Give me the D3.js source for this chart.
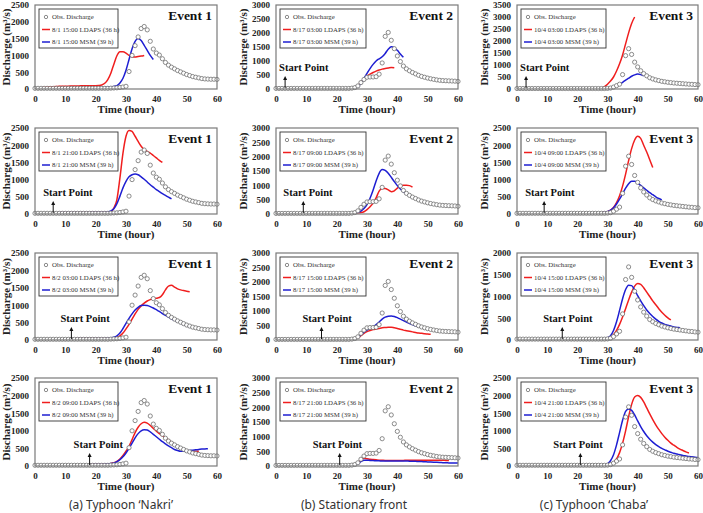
<!DOCTYPE html>
<html><head><meta charset="utf-8">
<script src="https://cdn.jsdelivr.net/npm/d3@7"></script>
<style>body{margin:0;background:#fff}svg{display:block}</style>
</head><body>
<svg id="c" width="703" height="513"></svg>
<script>
// ---------------- DATA ----------------
const hours = d3.range(0, 61);
const xTicks = [0, 10, 20, 30, 40, 50, 60];
const eventNames = ["Event 1", "Event 2", "Event 3"];
const captions = ["(a) Typhoon \u2018Nakri\u2019", "(b) Stationary front", "(c) Typhoon \u2018Chaba\u2019"];
const issueTimes = [
  ["8/1 15:00", "8/1 21:00", "8/2 03:00", "8/2 09:00"],
  ["8/17 03:00", "8/17 09:00", "8/17 15:00", "8/17 21:00"],
  ["10/4 03:00", "10/4 09:00", "10/4 15:00", "10/4 21:00"]
];
const startHours = [[0, 6, 12, 18], [3, 9, 15, 21], [3, 9, 15, 21]];
const yMaxes = [[2500, 2500, 2500, 2500], [3000, 3000, 3000, 3000], [3500, 2500, 2000, 2500]];

const obsE1 = [20,20,20,20,20,20,20,20,20,20, 20,20,20,20,20,20,20,20,20,20,
  20,20,20,20,20,25,30,35,45,60, 80,520,1000,1290,1550,1800,1860,1760,1420,1190,
  1070,1010,900,790,710,650,600,550,510,470, 430,400,370,350,330,310,300,295,290,290, 285];
const obsE2 = [20,20,20,20,20,20,20,20,20,20, 20,20,20,20,20,20,20,20,20,20,
  20,20,20,20,20,30,50,110,230,340, 420,430,430,440,530,930,1880,2020,1740,1440,
  1180,980,820,720,650,590,540,490,450,420, 390,365,345,325,310,300,295,290,285,280, 270];
const obsE3 = [20,20,20,20,20,20,20,20,20,20, 20,20,20,20,20,20,20,20,20,20,
  20,20,20,20,20,20,20,20,20,20, 25,40,80,140,200,600,1390,1680,1440,1120,
  920,760,640,550,470,420,380,350,320,300, 280,265,250,240,230,220,210,200,195,185, 180];

// LDAPS and MSM forecasts, hourly from each start hour
const ldapsE1 = [
  [20,30,40,50,60,65,70,75,80,80, 85,85,90,90,90,95,95,95,95,100, 100,105,120,170,280,470,740,990,1110,1110, 1070,1000,960,950,970,980,1000],
  [30,35,40,40,40,40,40,45,45,45, 45,45,45,50,50,50,50,50,55,70, 175,420,1050,1770,2260,2430,2400,2260,2110,1970, 1870,1820,1770,1700,1630,1560,1500],
  [30,35,40,40,40,40,40,40,40,40, 40,45,45,50,60,80,120,200,320,450, 600,750,880,980,1060,1120,1160,1190,1200,1220, 1300,1440,1550,1570,1520,1470,1440,1420,1400,1390],
  [40,45,50,50,50,55,60,70,90,130, 200,300,420,560,750,950,1100,1200,1240,1220, 1150,1070,990,920,860,800,740,680,620,570, 520,480,450,430,420,420,420]
];
const msmE1 = [
  [20,30,35,40,40,40,40,40,40,40, 40,40,40,40,40,40,40,40,40,40, 40,40,45,50,55,60,75,100,180,320, 560,880,1200,1420,1500,1440,1300,1150,1000,880],
  [30,35,40,40,40,40,40,45,45,45, 45,45,45,50,50,50,50,50,60,90, 150,300,520,760,950,1080,1140,1160,1140,1080, 1010,930,850,780,710,650,590,540,490,440],
  [30,35,40,40,40,40,40,40,40,40, 40,45,50,60,80,120,200,330,480,620, 750,860,940,990,1000,990,960,920,870,820, 760,710,660,610,570,530,490,450,410,380],
  [40,45,50,50,50,55,60,70,85,120, 180,260,370,500,650,800,920,1000,1030,1020, 970,900,830,760,690,630,570,520,470,440, 420,420,430,440,450,460,470,480,485,490]
];
const ldapsE2 = [
  [20,25,30,30,30,30,30,30,30,30, 30,30,30,30,30,30,30,30,30,30, 30,30,40,60,120,230,350,450,530,590, 640,680,710,730,750,770,760],
  [20,25,30,30,30,30,30,30,30,30, 30,30,30,30,30,30,30,35,40,50, 80,150,250,380,560,800,890,890,840,780, 810,900,970,1000,1000,990,940],
  [20,25,30,30,30,30,30,30,30,30, 35,50,80,150,230,290,330,360,380,400, 420,430,440,440,420,400,370,340,320,300, 280,260,240,230,215,205,195],
  [20,25,30,30,40,60,120,200,260,250, 230,220,210,200,195,190,190,190,190,190, 190,190,195,195,200,200,200,200,200,200, 200,200,200,195,195,190,190]
];
const msmE2 = [
  [20,25,30,30,30,30,30,30,30,30, 30,30,30,30,30,30,30,30,30,30, 30,30,35,45,80,200,370,560,730,880, 1000,1080,1150,1270,1420,1510,1480,1380,1250,1130],
  [20,25,30,30,30,30,30,30,30,30, 30,30,30,30,30,30,35,45,60,100, 190,330,550,830,1150,1420,1550,1520,1420,1280, 1130,990,870,780,700,640,590,540,500,470],
  [20,25,30,30,30,30,30,30,30,30, 35,50,90,180,270,340,400,460,530,620, 720,790,820,830,810,770,720,670,620,570, 530,490,460,430,410,390,370,350,340,330],
  [20,25,30,30,35,50,80,150,200,200, 190,185,180,175,170,170,170,170,170,170, 170,170,170,165,165,160,155,150,145,140, 135,130,125,120,115,110,105,100,100,100]
];
const ldapsE3 = [
  [20,20,20,20,20,20,20,20,20,20, 20,20,20,20,20,20,20,20,20,20, 20,20,20,20,25,40,100,200,330,500, 750,1050,1420,1880,2340,2730,3000],
  [20,20,20,20,20,20,20,20,20,20, 20,20,20,20,20,20,20,25,30,40, 50,70,110,190,330,530,810,1160,1550,1900, 2150,2260,2200,2000,1800,1580,1350],
  [20,20,20,20,20,20,20,20,20,20, 20,20,20,20,25,35,60,120,220,360, 530,720,920,1100,1240,1300,1280,1200,1100,1000, 900,810,720,640,570,510,460],
  [20,20,20,20,20,20,20,25,30,40, 60,100,200,380,650,1000,1400,1750,1960,2000, 1950,1820,1650,1480,1320,1170,1040,920,820,730, 650,590,530,480,440,400,370]
];
const msmE3 = [
  [20,20,20,20,20,20,20,20,20,20, 20,20,20,20,20,20,20,20,20,20, 20,20,20,20,20,20,25,35,60,90, 140,200,280,370,450,530,590,620,600,550],
  [20,20,20,20,20,20,20,20,20,20, 20,20,20,20,20,20,20,25,30,40, 50,70,110,180,290,430,590,750,880,950, 950,900,830,760,690,620,560,500,450,410],
  [20,20,20,20,20,20,20,20,20,20, 20,20,20,20,30,50,100,220,420,680, 950,1160,1260,1250,1150,1020,900,790,690,610, 540,480,430,390,360,340,320,300,290,280],
  [20,20,20,20,20,20,20,25,35,60, 150,320,600,950,1300,1550,1620,1580,1450,1280, 1120,980,860,760,680,610,550,500,460,420, 390,360,340,320,300,285,270,260,250,240]
];
const obsAll = [obsE1, obsE2, obsE3];
const ldapsAll = [ldapsE1, ldapsE2, ldapsE3];
const msmAll = [msmE1, msmE2, msmE3];

// ---------------- LAYOUT ----------------
const colX = [[35, 217], [276, 458], [517, 698]];
const rowY = [[89, 5], [214, 128], [340, 253], [466, 378]];
const yTitleX = [10, 247, 488];
const legendW = [79, 86, 85];
const captionX = [121, 354, 594];
const startTextDx = [[0, -10, -11, -16], [-6, -20, -19, -27], [-6, -19, -19, -27]];
const RED = "#f01e1e", BLUE = "#1e1ed2";
const SERIF = "'Liberation Serif','Times New Roman',serif";

const svg = d3.select("#c");

for (let c = 0; c < 3; c++) {
  for (let r = 0; r < 4; r++) {
    const ymax = yMaxes[c][r];
    const x = d3.scaleLinear().domain([0, 60]).range(colX[c]);
    const y = d3.scaleLinear().domain([0, ymax]).range(rowY[r]);
    const g = svg.append("g");
    const x0 = x(0), x1 = x(60), yb = y(0), yt = y(ymax);

    // y axis
    const ya = g.append("g").attr("transform", `translate(${x0},0)`)
      .call(d3.axisLeft(y).tickValues(d3.range(0, ymax + 1, 500)).tickFormat(d3.format("d")).tickSize(0).tickPadding(6));
    ya.select(".domain").remove();
    ya.selectAll("text").attr("font-family", SERIF).attr("font-weight", "bold").attr("font-size", 9).attr("fill", "#222");

    // x axis
    const xa = g.append("g").attr("transform", `translate(0,${yb})`)
      .call(d3.axisBottom(x).tickValues(xTicks).tickFormat(d3.format("d")).tickSize(0).tickPadding(7));
    xa.select(".domain").remove();
    xa.selectAll("text").attr("font-family", SERIF).attr("font-weight", "bold").attr("font-size", 9).attr("fill", "#222");

    // axis titles
    g.append("text").attr("x", (x0 + x1) / 2).attr("y", yb + 24).attr("text-anchor", "middle")
      .attr("font-family", SERIF).attr("font-weight", "bold").attr("font-size", 11).attr("fill", "#222")
      .text("Time (hour)");
    g.append("text").attr("transform", `translate(${yTitleX[c]},${(yb + yt) / 2}) rotate(-90)`)
      .attr("text-anchor", "middle").attr("font-family", SERIF).attr("font-weight", "bold")
      .attr("font-size", 11).attr("fill", "#222").text("Discharge (m\u00B3/s)");

    // forecast lines
    const st = startHours[c][r];
    const line = d3.line().x(d => x(d[0])).y(d => y(d[1])).curve(d3.curveMonotoneX);
    const ld = ldapsAll[c][r].map((v, i) => [st + i, v]);
    const ms = msmAll[c][r].map((v, i) => [st + i, v]);
    g.append("path").datum(ld).attr("d", line).attr("fill", "none").attr("stroke", RED).attr("stroke-width", 1.5);
    g.append("path").datum(ms).attr("d", line).attr("fill", "none").attr("stroke", BLUE).attr("stroke-width", 1.5);

    // observations
    g.append("g").selectAll("circle").data(hours).join("circle")
      .attr("cx", h => x(h)).attr("cy", h => y(obsAll[c][h])).attr("r", 2.1)
      .attr("fill", "#fff").attr("stroke", "#6e6e6e").attr("stroke-width", 0.8);

    // frame
    g.append("rect").attr("x", x0).attr("y", yt).attr("width", x1 - x0).attr("height", yb - yt)
      .attr("fill", "none").attr("stroke", "#7a7a7a").attr("stroke-width", 1.2);

    // event label
    g.append("text").attr("x", x1 - 5).attr("y", yt + 15).attr("text-anchor", "end")
      .attr("font-family", SERIF).attr("font-weight", "bold").attr("font-size", 13.5).attr("fill", "#111")
      .text(eventNames[c]);

    // legend
    const lx = x0 + 4, ly = yt + 4, lw = legendW[c];
    const lg = g.append("g");
    lg.append("rect").attr("x", lx).attr("y", ly).attr("width", lw).attr("height", 39)
      .attr("fill", "#fff").attr("stroke", "#333").attr("stroke-width", 0.9);
    const items = [
      {t: "Obs. Discharge", k: "obs"},
      {t: issueTimes[c][r] + " LDAPS (36 h)", k: RED},
      {t: issueTimes[c][r] + " MSM (39 h)", k: BLUE}
    ];
    items.forEach((it, i) => {
      const yy = ly + 8 + i * 12.5;
      if (it.k === "obs") {
        lg.append("circle").attr("cx", lx + 7).attr("cy", yy).attr("r", 1.7)
          .attr("fill", "#fff").attr("stroke", "#6e6e6e").attr("stroke-width", 0.8);
      } else {
        lg.append("line").attr("x1", lx + 3).attr("x2", lx + 11).attr("y1", yy).attr("y2", yy)
          .attr("stroke", it.k).attr("stroke-width", 1.5);
      }
      lg.append("text").attr("x", lx + 13).attr("y", yy + 2.3).attr("font-family", SERIF)
        .attr("font-size", 6.8).attr("fill", "#333").text(it.t);
    });

    // start point
    if (st > 0) {
      const xs = x(st);
      g.append("line").attr("x1", xs).attr("x2", xs).attr("y1", yb - 1).attr("y2", yb - 10)
        .attr("stroke", "#111").attr("stroke-width", 1);
      g.append("path").attr("d", `M${xs},${yb - 13}L${xs - 2},${yb - 9}L${xs + 2},${yb - 9}Z`).attr("fill", "#111");
      g.append("text").attr("x", xs + startTextDx[c][r]).attr("y", yb - 18).attr("font-family", SERIF)
        .attr("font-weight", "bold").attr("font-size", 10.5).attr("fill", "#111").text("Start Point");
    }
  }
  svg.append("text").attr("x", captionX[c]).attr("y", 509).attr("text-anchor", "middle")
    .attr("font-family", "'Noto Sans',sans-serif").attr("font-size", 12).attr("fill", "#333")
    .text(captions[c]);
}
</script>
</body></html>
